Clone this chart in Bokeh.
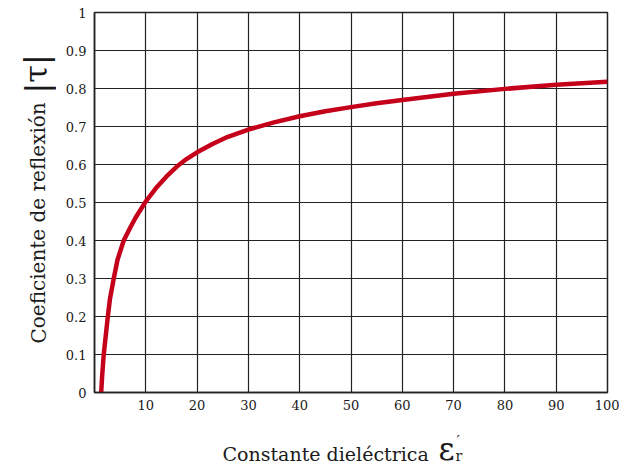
from bokeh.plotting import figure
from bokeh.models import Range1d, FixedTicker, Label
from bokeh.layouts import row, column
from bokeh.embed import file_html
from bokeh.resources import INLINE

# Data
er = [1.3, 1.5, 1.8, 2.2, 2.6, 3.0, 3.75, 4.5, 5.7, 7, 8, 10, 12, 14, 16, 18,
      20, 23, 26, 30, 35, 40, 45, 50, 55, 60, 70, 80, 90, 100]
tau = [0.0, 0.045, 0.10, 0.15, 0.20, 0.245, 0.30, 0.35, 0.40, 0.435, 0.46,
       0.503, 0.538, 0.568, 0.594, 0.615, 0.632, 0.654, 0.673, 0.692, 0.711,
       0.727, 0.740, 0.751, 0.761, 0.770, 0.786, 0.799, 0.810, 0.818]
x_ticks = [10, 20, 30, 40, 50, 60, 70, 80, 90, 100]
y_ticks = [0, 0.1, 0.2, 0.3, 0.4, 0.5, 0.6, 0.7, 0.8, 0.9, 1]
y_labels = {0: "0", 0.1: "0.1", 0.2: "0.2", 0.3: "0.3", 0.4: "0.4", 0.5: "0.5",
            0.6: "0.6", 0.7: "0.7", 0.8: "0.8", 0.9: "0.9", 1: "1"}
x_title = "Constante dieléctrica"
y_title = "Coeficiente de reflexión"

FONT = "DejaVu Serif"
TXT = "#1a1a1a"
LEFT_W = 56

# ---- main chart ----
p = figure(width=619 - LEFT_W, height=418, output_backend="svg",
           toolbar_location=None, title=None,
           x_range=Range1d(0, 100), y_range=Range1d(0, 1),
           min_border_left=94 - LEFT_W, min_border_right=12, min_border_top=12,
           min_border_bottom=26)
p.background_fill_color = "white"
p.border_fill_color = "white"
p.outline_line_color = "#222222"
p.outline_line_width = 1.5

for ax in (p.xaxis[0], p.yaxis[0]):
    ax.major_tick_line_color = None
    ax.minor_tick_line_color = None
    ax.axis_line_color = "#222222"
    ax.axis_line_width = 1.5
    ax.major_label_text_font = FONT
    ax.major_label_text_font_size = "13px"
    ax.major_label_text_color = TXT

p.xaxis.ticker = FixedTicker(ticks=x_ticks)
p.yaxis.ticker = FixedTicker(ticks=y_ticks)
p.yaxis.major_label_overrides = y_labels
p.xaxis.major_label_standoff = 1
p.yaxis.major_label_standoff = 2

p.xgrid.ticker = FixedTicker(ticks=x_ticks)
p.ygrid.ticker = FixedTicker(ticks=y_ticks)
for g in (p.xgrid[0], p.ygrid[0]):
    g.grid_line_color = "#222222"
    g.grid_line_width = 1.2
    g.grid_line_alpha = 1.0

p.line(er, tau, line_color="#c4001a", line_width=4.5, line_join="round")


def text_panel(w, h, xr, yr):
    """A blank panel used only to hold the axis titles."""
    f = figure(width=w, height=h, output_backend="svg", toolbar_location=None,
               title=None, x_range=Range1d(*xr), y_range=Range1d(*yr),
               x_axis_type=None, y_axis_type=None,
               min_border=0, min_border_left=0, min_border_right=0,
               min_border_top=0, min_border_bottom=0)
    f.outline_line_color = None
    f.background_fill_color = "white"
    f.border_fill_color = "white"
    f.grid.visible = False
    return f


# ---- x title panel (below the chart; its frame lines up with the chart's) ----
px = text_panel(619 - LEFT_W, 50, (94, 607), (468, 418))
px.add_layout(Label(x=222, y=453, text=x_title, text_font=FONT,
                    text_font_size="19px", text_color=TXT,
                    text_baseline="alphabetic"))
px.add_layout(Label(x=438, y=448, text="ε", text_font=FONT,
                    text_font_size="31px", text_color=TXT,
                    text_baseline="alphabetic"))
px.add_layout(Label(x=455, y=455, text="r", text_font=FONT,
                    text_font_size="14px", text_color=TXT,
                    text_baseline="alphabetic"))
px.add_layout(Label(x=456, y=440, text="′", text_font=FONT,
                    text_font_size="15px", text_color=TXT,
                    text_baseline="alphabetic"))

# ---- y title panel (left of the chart) ----
py = text_panel(LEFT_W, 468, (0, LEFT_W), (468, 0))
py.add_layout(Label(x=38, y=343, text=y_title, text_font=FONT,
                    text_font_size="20px", text_color=TXT, angle=1.5708,
                    text_baseline="alphabetic"))
py.add_layout(Label(x=36, y=93, text="|τ|", text_font=FONT,
                    text_font_size="32px", text_color=TXT, angle=1.5708,
                    text_baseline="alphabetic"))

layout = row(py, column(p, px, spacing=0), spacing=0)

open("out.html", "w").write(file_html(layout, INLINE))
